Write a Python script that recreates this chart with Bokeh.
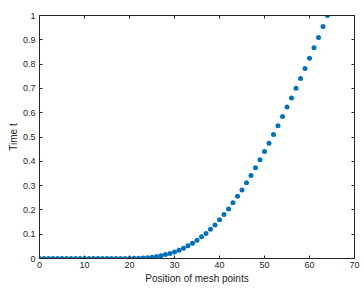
from bokeh.plotting import figure
from bokeh.models import LinearAxis, Range1d, FixedTicker
from bokeh.embed import file_html
from bokeh.resources import INLINE

# mesh point positions and times
positions = list(range(0, 65))
times = [0.0] * 19 + [
    0.0002, 0.0005, 0.001, 0.0015, 0.0025, 0.0035,  # 19-24
    0.005, 0.008, 0.011, 0.016, 0.021,              # 25-29
    0.027, 0.034, 0.042, 0.052, 0.063,              # 30-34
    0.075, 0.089, 0.103, 0.120, 0.138,              # 35-39
    0.159, 0.181, 0.204, 0.229, 0.256,              # 40-44
    0.282, 0.312, 0.342, 0.373, 0.406,              # 45-49
    0.440, 0.474, 0.510, 0.546, 0.584,              # 50-54
    0.623, 0.661, 0.701, 0.741, 0.782,              # 55-59
    0.824, 0.867, 0.909, 0.955, 1.0,                # 60-64
]
x_ticks = [0, 10, 20, 30, 40, 50, 60, 70]
y_ticks = [0, 0.1, 0.2, 0.3, 0.4, 0.5, 0.6, 0.7, 0.8, 0.9, 1.0]
y_tick_labels = {0: "0", 0.1: "0.1", 0.2: "0.2", 0.3: "0.3", 0.4: "0.4", 0.5: "0.5",
                 0.6: "0.6", 0.7: "0.7", 0.8: "0.8", 0.9: "0.9", 1.0: "1"}

AX = "#262626"
FONT = "Liberation Sans"

p = figure(width=364, height=293, output_backend="svg", toolbar_location=None,
           x_range=Range1d(0, 70), y_range=Range1d(0, 1),
           x_axis_label="Position of mesh points", y_axis_label="Time t",
           min_border_left=39, min_border_right=10, min_border_top=15, min_border_bottom=35)
p.grid.visible = False
p.outline_line_color = AX
p.outline_line_width = 1
p.background_fill_color = "white"
p.border_fill_color = "white"

p.scatter(positions, times, size=5, color="#0072BD", line_color=None)

def style(ax, ticks, labels=True):
    ax.ticker = FixedTicker(ticks=ticks)
    ax.axis_line_color = AX
    ax.major_tick_line_color = AX
    ax.major_tick_in = 3
    ax.major_tick_out = 0
    ax.minor_tick_line_color = None
    ax.major_label_text_font = FONT
    ax.major_label_text_font_size = "9px" if labels else "0px"
    ax.major_label_text_color = AX if labels else None
    ax.major_label_standoff = 4 if labels else 0
    ax.axis_label_text_font = FONT
    ax.axis_label_text_font_size = "10px"
    ax.axis_label_text_font_style = "normal"
    ax.axis_label_text_color = AX

style(p.xaxis[0], x_ticks)
style(p.yaxis[0], y_ticks)
p.xaxis[0].major_label_standoff = 3
p.xaxis[0].axis_label_standoff = 2
p.yaxis[0].axis_label_standoff = 1
p.yaxis[0].major_label_overrides = y_tick_labels

top = LinearAxis()
style(top, x_ticks, labels=False)
p.add_layout(top, "above")
right = LinearAxis()
style(right, y_ticks, labels=False)
p.add_layout(right, "right")

open("out.html", "w").write(file_html(p, INLINE))
